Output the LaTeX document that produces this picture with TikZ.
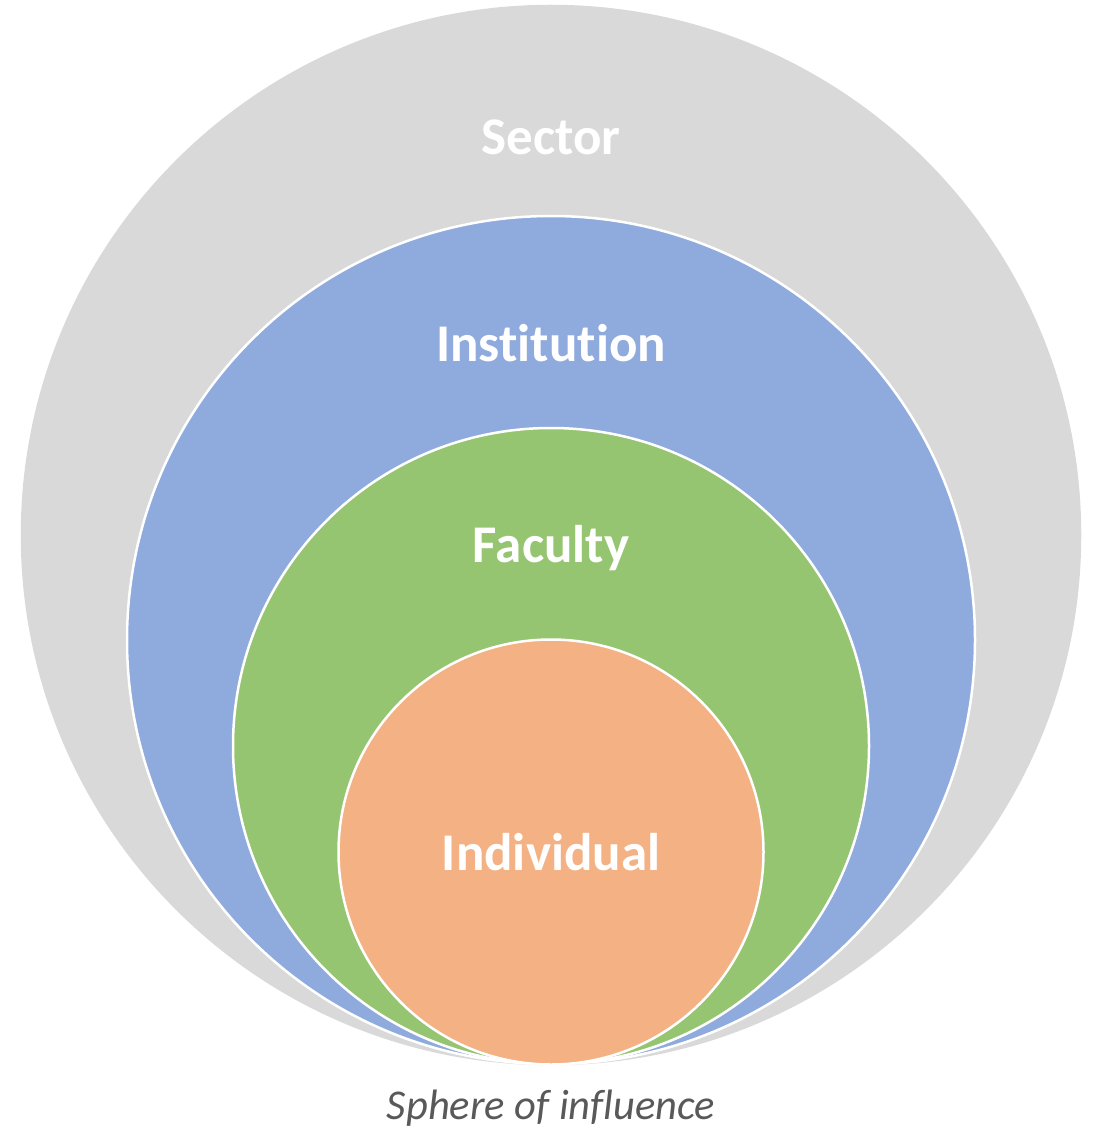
\documentclass[tikz,border=0pt]{standalone}
\usepackage{fontspec}
\setmainfont{Carlito}[Ligatures={NoCommon}]
\definecolor{sectorgray}{HTML}{D9D9D9}
\definecolor{instblue}{HTML}{8FAADC}
\definecolor{facgreen}{HTML}{96C571}
\definecolor{indorange}{HTML}{F4B183}
\definecolor{captgray}{HTML}{595959}
\tikzset{
  ring/.style={circle, draw=white, line width=2.5pt, inner sep=0pt},
  lbl/.style={text=white, font=\fontsize{53}{60}\selectfont\bfseries, anchor=center},
}
\begin{document}
\begin{tikzpicture}[x=1pt,y=-1pt]
\useasboundingbox (0,0) rectangle (1102,1131);
\node[ring, fill=sectorgray, draw=sectorgray, minimum size=1058pt] (sector) at (551,535) {};
\node[ring, fill=instblue, minimum size=848pt] (inst) at (551,640) {};
\node[ring, fill=facgreen, minimum size=636pt] (fac) at (551,746) {};
\node[ring, fill=indorange, minimum size=425pt] (ind) at (551,852) {};
\node[lbl] (tsector) at (551,137) {Sector};
\node[lbl] (tinst) at (551,343) {Institution};
\node[lbl] (tfac) at (551,548) {Faculty};
\node[lbl] (tind) at (551,852) {Individual};
\node[text=captgray, font=\fontsize{42.5}{50}\selectfont\itshape] (cap) at (551,1108) {Sphere of influence};
\end{tikzpicture}
\end{document}
